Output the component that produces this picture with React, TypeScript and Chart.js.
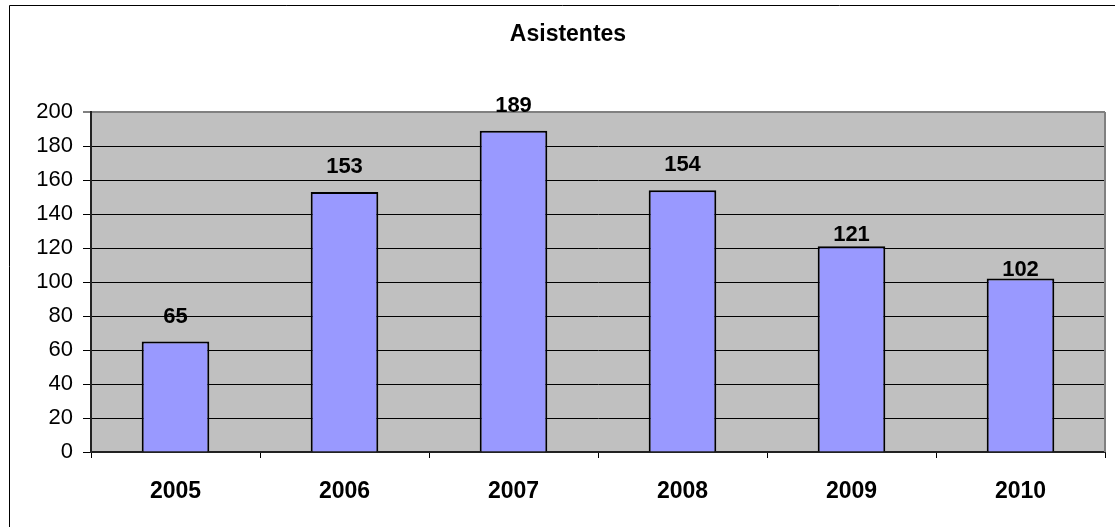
import React, { useEffect, useRef } from "react";
import { Chart, registerables } from "chart.js";

Chart.register(...registerables);

const categories: string[] = ["2005", "2006", "2007", "2008", "2009", "2010"];
const asistentes: number[] = [65, 153, 189, 154, 121, 102];
const titleText = "Asistentes";
const yMin = 0;
const yMax = 200;
const yStep = 20;

const FONT = "'Liberation Sans', Arial, sans-serif";
// gap (px) between each bar top and its value label baseline, as in the original
const labelGaps: number[] = [19, 19, 19, 19, 5, 3];

const decorPlugin = {
  id: "decor",
  beforeDraw(chart: any) {
    const { ctx, chartArea } = chart;
    ctx.save();
    ctx.fillStyle = "#C0C0C0";
    ctx.fillRect(chartArea.left, chartArea.top, chartArea.right - chartArea.left, chartArea.bottom - chartArea.top);
    ctx.strokeStyle = "#000000";
    ctx.lineWidth = 1;
    ctx.beginPath();
    ctx.moveTo(9.5, chart.height + 5);
    ctx.lineTo(9.5, 5.5);
    ctx.lineTo(chart.width + 5, 5.5);
    ctx.stroke();
    ctx.restore();
  },
  afterDatasetsDraw(chart: any) {
    const { ctx, chartArea } = chart;
    ctx.save();
    ctx.strokeStyle = "#808080";
    ctx.lineWidth = 2;
    ctx.beginPath();
    ctx.moveTo(chartArea.right, chartArea.top);
    ctx.lineTo(chartArea.right, chartArea.bottom);
    ctx.stroke();

    const meta = chart.getDatasetMeta(0);
    const data = chart.data.datasets[0].data as number[];
    ctx.fillStyle = "#000000";
    ctx.font = `bold 22px ${FONT}`;
    ctx.textAlign = "center";
    ctx.textBaseline = "alphabetic";
    meta.data.forEach((el: any, i: number) => {
      ctx.fillText(String(data[i]), el.x, el.y - labelGaps[i]);
    });
    ctx.restore();
  },
};

export default function App() {
  const canvasRef = useRef<HTMLCanvasElement | null>(null);

  useEffect(() => {
    if (!canvasRef.current) return;
    const chart = new Chart(canvasRef.current, {
      type: "bar",
      data: {
        labels: categories,
        datasets: [
          {
            label: titleText,
            data: asistentes,
            backgroundColor: "#9999FF",
            borderColor: "#000000",
            borderWidth: 2,
            barPercentage: 0.4,
            categoryPercentage: 1,
          },
        ],
      },
      options: {
        responsive: false,
        animation: false,
        devicePixelRatio: 1,
        layout: { padding: { left: 31, right: 10, top: 0, bottom: 0 } },
        plugins: {
          legend: { display: false },
          tooltip: { enabled: false },
          title: {
            display: true,
            text: titleText,
            color: "#000000",
            font: { family: FONT, size: 23, weight: "bold" },
            padding: { top: 21, bottom: 63.4 },
          },
        },
        scales: {
          x: {
            offset: true,
            grid: {
              offset: true,
              drawOnChartArea: false,
              drawTicks: true,
              tickLength: 6,
              color: "#000000",
            },
            border: { display: true, color: "#222222", width: 2 },
            ticks: {
              color: "#000000",
              padding: 20,
              font: { family: FONT, size: 23, weight: "bold" },
            },
            afterFit(scale: any) {
              scale.height = 75;
            },
          },
          y: {
            min: yMin,
            max: yMax,
            ticks: {
              stepSize: yStep,
              color: "#000000",
              padding: 10,
              font: { family: FONT, size: 22 },
            },
            grid: {
              color: (ctx: any) => (ctx.tick && ctx.tick.value === yMax ? "#808080" : "#000000"),
              lineWidth: (ctx: any) => (ctx.tick && ctx.tick.value === yMax ? 2 : 1),
              tickLength: 8,
              drawTicks: true,
            },
            border: { display: true, color: "#222222", width: 2 },
            afterFit(scale: any) {
              scale.width = 60;
            },
          },
        },
      },
      plugins: [decorPlugin],
    });
    return () => chart.destroy();
  }, []);

  return (
    <div style={{ position: "absolute", left: 0, top: 0, width: 1115, height: 527 }}>
      <canvas ref={canvasRef} width={1115} height={527} style={{ display: "block" }} />
    </div>
  );
}
